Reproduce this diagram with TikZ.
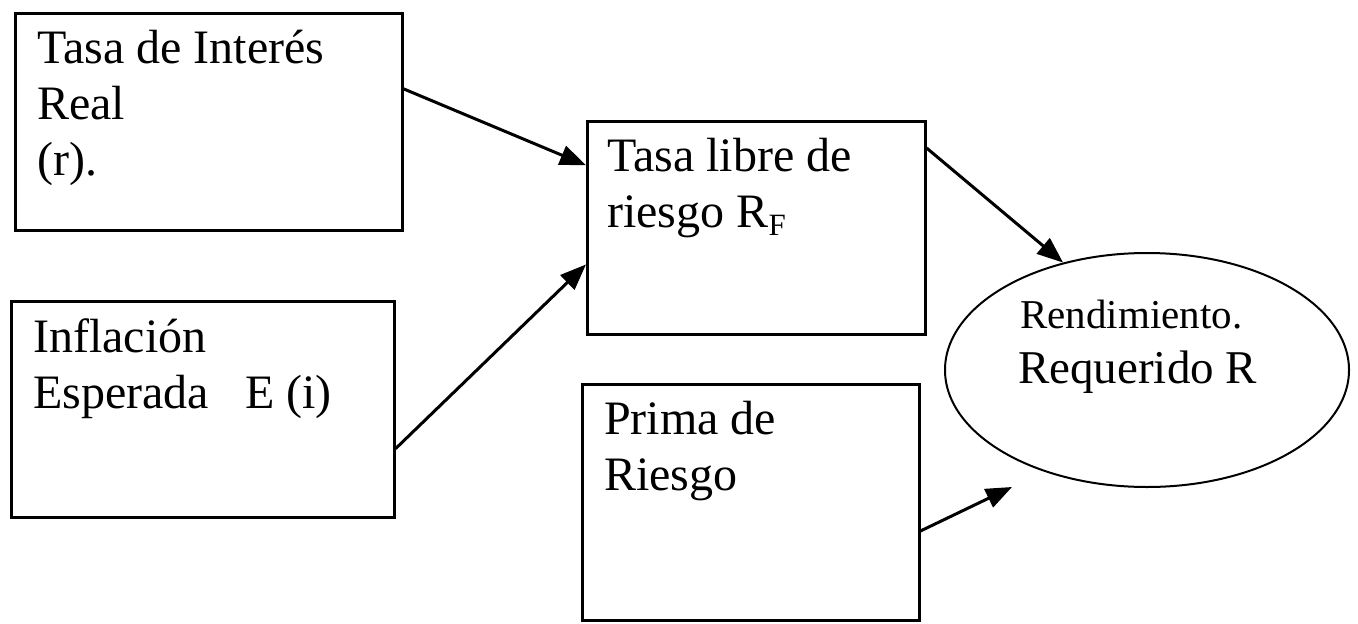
\documentclass[tikz,border=0pt]{standalone}
\usepackage{fontspec}
\setmainfont{Liberation Serif}
\usetikzlibrary{arrows.meta,shapes.geometric,calc}

\begin{document}
\begin{tikzpicture}[x=1pt,y=-1pt,
  box/.style={draw, line width=2.6pt, rectangle, anchor=north west, inner sep=0pt},
  % anchored at the baseline of the last line
  lbl/.style={anchor=base west, align=left, inner sep=0pt,
              font=\fontsize{48}{56}\selectfont},
  link/.style={line width=3pt, -{Triangle[length=26pt,width=20pt]}}]

  \useasboundingbox (0,0) rectangle (1358,624);

  % boxes
  \node[box, minimum width=387pt, minimum height=217pt] (b1) at (14,12) {};
  \node[box, minimum width=383pt, minimum height=216pt] (b2) at (10,300) {};
  \node[box, minimum width=338pt, minimum height=213pt] (b3) at (586,120) {};
  \node[box, minimum width=337pt, minimum height=236pt] (b4) at (581,383) {};
  \node[draw, line width=2pt, ellipse, minimum width=404pt, minimum height=234pt,
        inner sep=0pt] (rr) at (1147,370) {};

  % texts
  \node[lbl] (t1) at (37,175) {Tasa de Interés\\Real\\(r).};
  \node[lbl] (t2) at (33,408) {Inflación\\Esperada\hspace{36pt}E (i)};
  \node[lbl] (t3) at (607,227)
       {Tasa libre de\\riesgo R\raisebox{-8pt}{\fontsize{31}{31}\selectfont F}};
  \node[lbl] (t4) at (604,490) {Prima de\\Riesgo};
  \node[lbl, font=\fontsize{41}{41}\selectfont] (t5) at (1020,328) {Rendimiento.};
  \node[lbl, font=\fontsize{47}{47}\selectfont] (t6) at (1018,383) {Requerido R};

  % connectors
  \coordinate (free) at (1012,487);
  \draw[link] ($(b1.north east)!0.35!(b1.south east)$) -- ($(b3.north west)!0.21!(b3.south west)$);
  \draw[link] ($(b2.north east)!0.68!(b2.south east)$) -- ($(b3.north west)!0.67!(b3.south west)$);
  \draw[link] ($(b3.north east)!0.13!(b3.south east)$) -- (rr.128);
  \draw[link] ($(b4.north east)!0.62!(b4.south east)$) -- (free);
\end{tikzpicture}
\end{document}
